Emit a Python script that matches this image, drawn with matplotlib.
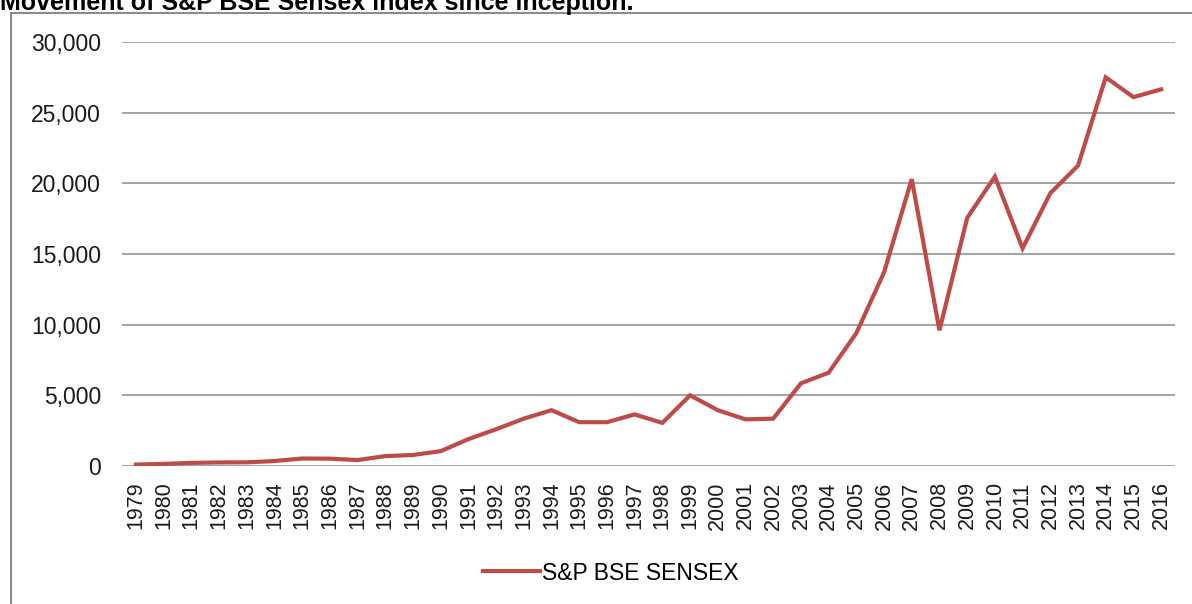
import matplotlib
matplotlib.use("Agg")
import matplotlib.pyplot as plt
from matplotlib.patches import Rectangle

years = [str(y) for y in range(1979, 2017)]
sensex = [100, 150, 220, 250, 260, 350, 530, 520, 420, 700,
          780, 1050, 1900, 2600, 3350, 3950, 3100, 3100, 3650, 3050,
          5000, 3950, 3300, 3350, 5850, 6600, 9400, 13700, 20300, 9600,
          17550, 20480, 15400, 19300, 21250, 27500, 26100, 26650]
yticks = [0, 5000, 10000, 15000, 20000, 25000, 30000]
ytick_labels = ["0", "5,000", "10,000", "15,000", "20,000", "25,000", "30,000"]
series_name = "S&P BSE SENSEX"
title = "Movement of S&P BSE Sensex index since inception."

plt.rcParams['font.family'] = ['Liberation Sans', 'DejaVu Sans']

W, H = 1192, 604
fig = plt.figure(figsize=(W / 100, H / 100), dpi=100)

# outer chart frame
fig.patches.append(Rectangle((11 / W, -0.05), 1.2, 1 - 13 / H + 0.05,
                             transform=fig.transFigure, fill=False,
                             edgecolor='#8c8c8c', linewidth=1.5))

fig.text(0.0, 1 - 10 / H, title, fontsize=18, fontweight='bold',
         va='baseline', ha='left', color='black')

ax = fig.add_axes([122 / W, 1 - 466 / H, (1175 - 122) / W, (466 - 42) / H])
x = list(range(len(years)))
line, = ax.plot(x, sensex, color='#BE4B48', linewidth=3, label=series_name,
                solid_joinstyle='miter', zorder=3)

ax.set_xlim(-0.5, len(years) - 0.5)
ax.set_ylim(0, 30000)
ax.set_yticks(yticks)
ax.set_yticklabels(ytick_labels)
ax.set_xticks(x)
ax.set_xticklabels(years, rotation=90)
ax.tick_params(axis='y', length=0, pad=15, labelsize=16.5, colors='#1a1a1a')
ax.tick_params(axis='x', length=0, pad=11, labelsize=15.5, colors='#1a1a1a')
ax.grid(axis='y', color='#8a8a8a', linewidth=1.1, zorder=0)
for s in ax.spines.values():
    s.set_visible(False)
ax.set_axisbelow(True)

fig.legend(handles=[line], loc='center', bbox_to_anchor=(611 / W, 1 - 573 / H),
           frameon=False, fontsize=16.5, handlelength=2.5, handletextpad=0.1)

fig.savefig('out.png', dpi=100)
